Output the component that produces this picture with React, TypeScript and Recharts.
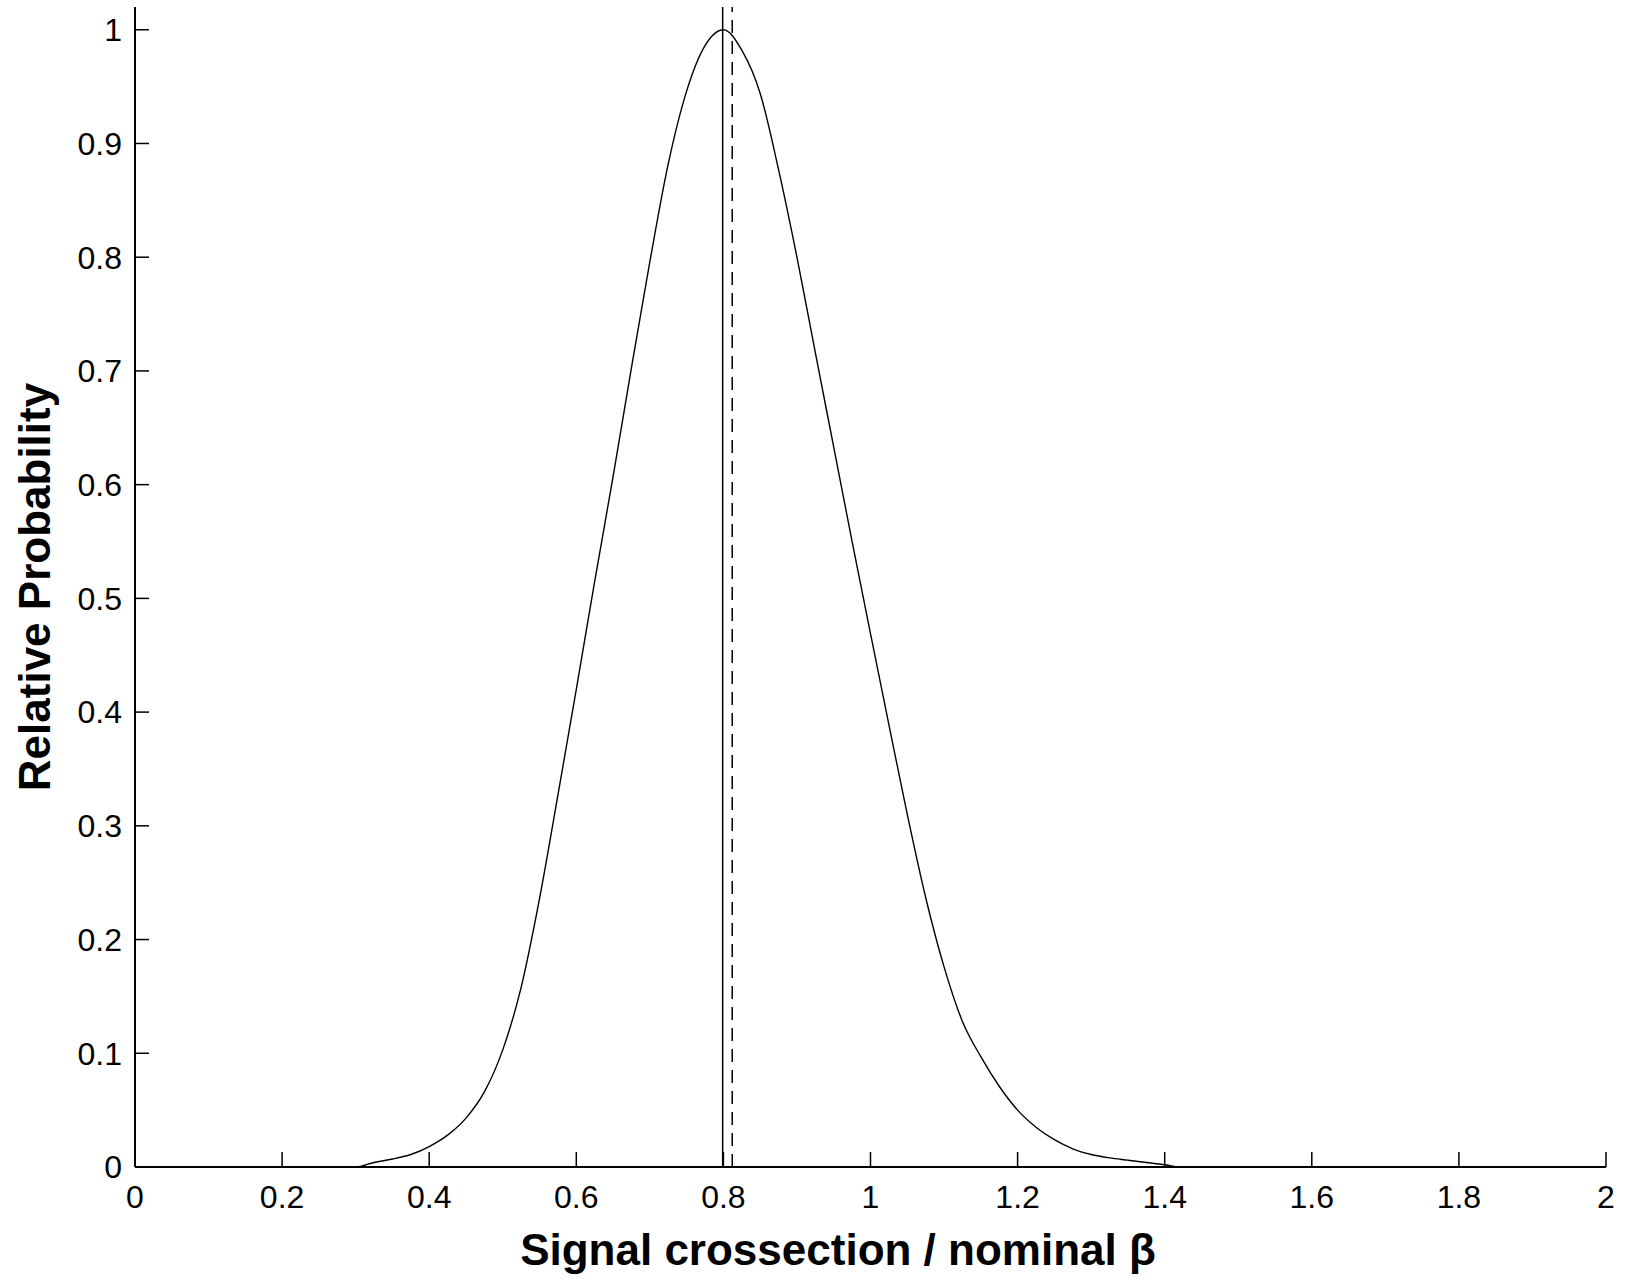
import { LineChart, Line, XAxis, YAxis, ReferenceLine, Label } from 'recharts'

// curve: signal crossection / nominal beta vs relative probability
const betaValues = [
  0, 0.3, 0.325, 0.35, 0.375, 0.4, 0.425, 0.45, 0.475, 0.5, 0.525, 0.55, 0.575, 0.6, 0.625, 0.65,
  0.675, 0.7, 0.725, 0.75, 0.775, 0.8, 0.825, 0.85, 0.875, 0.9, 0.925, 0.95, 0.975, 1.0, 1.025,
  1.05, 1.075, 1.1, 1.125, 1.15, 1.175, 1.2, 1.225, 1.25, 1.275, 1.3, 1.325, 1.35, 1.375, 1.4,
  1.42, 2,
]
const probValues = [
  0, 0, 0.004, 0.007, 0.011, 0.018, 0.028, 0.043, 0.066, 0.103, 0.158, 0.236, 0.327, 0.42, 0.515,
  0.607, 0.703, 0.796, 0.882, 0.946, 0.986, 1.0, 0.982, 0.944, 0.877, 0.8, 0.716, 0.633, 0.55,
  0.469, 0.389, 0.31, 0.237, 0.176, 0.128, 0.097, 0.071, 0.05, 0.035, 0.024, 0.016, 0.011, 0.008,
  0.006, 0.004, 0.002, 0, 0,
]

const xTicks = [0, 0.2, 0.4, 0.6, 0.8, 1, 1.2, 1.4, 1.6, 1.8, 2]
const yTicks = [0, 0.1, 0.2, 0.3, 0.4, 0.5, 0.6, 0.7, 0.8, 0.9, 1]

const solidMarker = 0.799
const dashedMarker = 0.812

const font = '"Liberation Sans", Arial, Helvetica, sans-serif'

export default function App() {
  const data = betaValues.map((x, i) => ({ x, p: probValues[i] }))

  const fmt = (v: number) => String(Math.round(v * 10) / 10)

  return (
    <div style={{ position: 'absolute', left: 0, top: 0, background: '#fff' }}>
      <LineChart
        width={1629}
        height={1283}
        data={data}
        margin={{ top: 7, right: 23, left: 0, bottom: 0 }}
        style={{ fontFamily: font }}
      >
        <XAxis
          type="number"
          dataKey="x"
          domain={[0, 2]}
          ticks={xTicks}
          tickFormatter={fmt}
          height={116}
          axisLine={{ stroke: '#000', strokeWidth: 2 }}
          tickLine={{ stroke: '#000', strokeWidth: 1.5 }}
          tickSize={-15}
          tickMargin={33}
          tick={{ fill: '#000', fontSize: 32, fontFamily: font }}
        >
          <Label
            content={() => (
              <text
                x={838}
                y={1265}
                textAnchor="middle"
                fontSize={44}
                fontWeight="bold"
                fontFamily={font}
                fill="#000"
              >
                Signal crossection / nominal β
              </text>
            )}
          />
        </XAxis>
        <YAxis
          type="number"
          domain={[0, 1.02]}
          ticks={yTicks}
          tickFormatter={fmt}
          width={135}
          axisLine={{ stroke: '#000', strokeWidth: 2 }}
          tickLine={{ stroke: '#000', strokeWidth: 1.5 }}
          tickSize={-14}
          tickMargin={27}
          tick={{ fill: '#000', fontSize: 32, fontFamily: font }}
        >
          <Label
            content={() => (
              <text
                x={50}
                y={587}
                transform="rotate(-90, 50, 587)"
                textAnchor="middle"
                fontSize={44}
                fontWeight="bold"
                fontFamily={font}
                fill="#000"
              >
                Relative Probability
              </text>
            )}
          />
        </YAxis>
        <ReferenceLine x={solidMarker} stroke="#000" strokeWidth={1.5} />
        <ReferenceLine x={dashedMarker} stroke="#000" strokeWidth={1.5} strokeDasharray="13 8" />
        <Line
          type="monotone"
          dataKey="p"
          stroke="#000"
          strokeWidth={1.4}
          dot={false}
          isAnimationActive={false}
        />
      </LineChart>
    </div>
  )
}
